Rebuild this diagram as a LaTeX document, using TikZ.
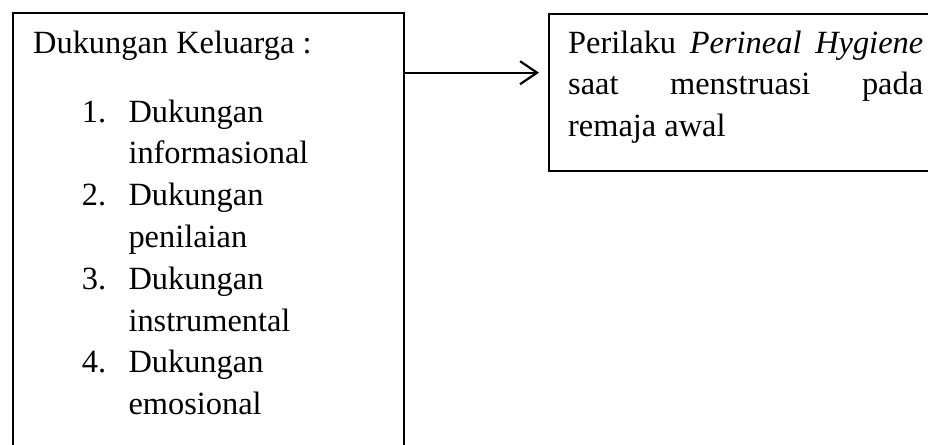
\documentclass[tikz,border=0pt]{standalone}
\usepackage{fontspec}
\setmainfont{Liberation Serif}
\usetikzlibrary{arrows.meta}
\tikzset{
  txt/.style={anchor=base west, inner sep=0pt, font=\fontsize{32.4}{41.8}\selectfont},
  boxframe/.style={draw=black, line width=2.2pt, anchor=north west, inner sep=0pt},
  arr/.style={draw=black, line width=2.2pt, -{Straight Barb[length=17pt, width=23pt, line width=2.2pt]}, shorten >=9pt}
}
\begin{document}
\begin{tikzpicture}[x=1pt, y=1pt]
\useasboundingbox (0,0) rectangle (928,-444);
\clip (0,0) rectangle (928,-444);
% boxes
\node[boxframe, minimum width=390.7pt, minimum height=470pt] (lbox) at (12,-12) {};
\node[boxframe, minimum width=420pt, minimum height=157pt] (rbox) at (548,-13) {};
% arrow
\coordinate (ay) at (0,-72.7);
\draw[arr] (lbox.east |- ay) -- (rbox.west |- ay);
% left text
\node[txt] (head) at (33,-53) {Dukungan Keluarga :};
\node[txt] (n1) at (81.7,-122) {1.};
\node[txt] (t1a) at (128.3,-122) {Dukungan};
\node[txt] (t1b) at (128.3,-163.8) {informasional};
\node[txt] (n2) at (81.7,-205.6) {2.};
\node[txt] (t2a) at (128.3,-205.6) {Dukungan};
\node[txt] (t2b) at (128.3,-247.4) {penilaian};
\node[txt] (n3) at (81.7,-289.2) {3.};
\node[txt] (t3a) at (128.3,-289.2) {Dukungan};
\node[txt] (t3b) at (128.3,-331) {instrumental};
\node[txt] (n4) at (81.7,-372.8) {4.};
\node[txt] (t4a) at (128.3,-372.8) {Dukungan};
\node[txt] (t4b) at (128.3,-414.6) {emosional};
% right text
\node[txt] (r1) at (568,-53) {\makebox[355pt][s]{Perilaku\hfill\textit{Perineal}\hfill\textit{Hygiene}}};
\node[txt] (r2) at (568,-94.8) {\makebox[355pt][s]{saat\hfill menstruasi\hfill pada}};
\node[txt] (r3) at (568,-136.6) {remaja awal};
\end{tikzpicture}
\end{document}
